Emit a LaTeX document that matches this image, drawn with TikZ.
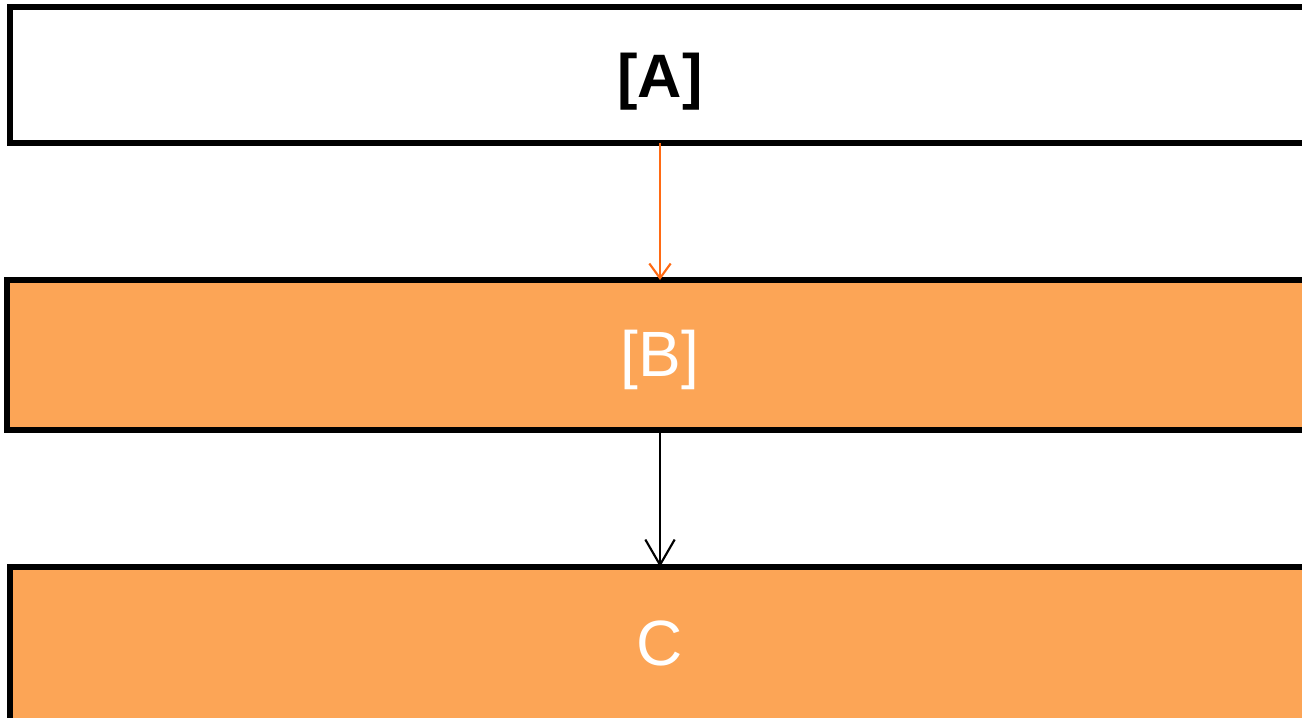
\documentclass[tikz,border=0pt]{standalone}
\usepackage{fontspec}
\setmainfont{Liberation Sans}
\usetikzlibrary{arrows.meta}
\definecolor{boxorange}{HTML}{FCA556}
\definecolor{linkorange}{HTML}{FF6A13}
\tikzset{
  stage/.style={draw=black, line width=3.9pt, rectangle, inner sep=0pt, outer sep=0pt},
  caption/.style={font=\fontsize{48}{56}\selectfont, inner sep=0pt},
  link/.style={line width=1.6pt},
}
\begin{document}
\begin{tikzpicture}[x=0.75pt,y=-0.75pt]
  \path[use as bounding box, clip] (0,0) rectangle (1302,717);
  % three stacked stages, running off the right edge
  \node[stage, fill=white, minimum width=975pt, minimum height=102pt] (A) at (660,75) {};
  \node[stage, fill=boxorange, minimum width=979.5pt, minimum height=112.5pt] (B) at (660,355) {};
  \node[stage, fill=boxorange, minimum width=975pt, minimum height=120pt] (C) at (660,647) {};
  % labels
  \node[caption, font=\fontsize{46}{54}\selectfont\bfseries] (tA) at (660,82) {[A]};
  \node[caption, text=white] (tB) at (660,360) {[B]};
  \node[caption, text=white] (tC) at (660,643) {C};
  % connectors
  \draw[link, draw=linkorange, -{Straight Barb[length=11pt, width=16pt, line width=1.6pt]}] (A.south) -- (B.north);
  \draw[link, draw=black, -{Straight Barb[length=19pt, width=22pt, line width=1.6pt]}] (B.south) -- (C.north);
\end{tikzpicture}
\end{document}
